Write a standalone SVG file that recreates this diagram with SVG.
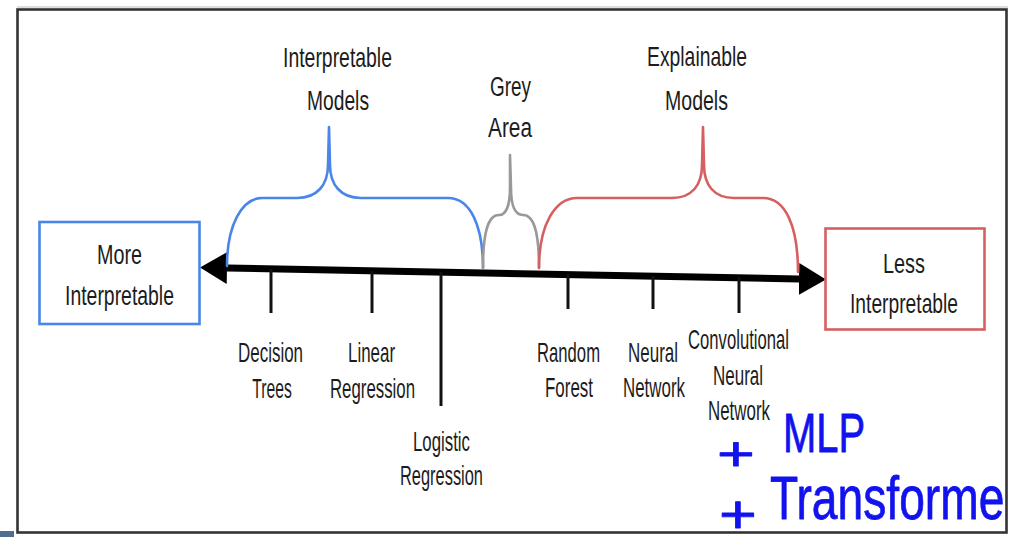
<svg xmlns="http://www.w3.org/2000/svg" width="1010" height="554" viewBox="0 0 1010 554">
<style>
.lbl{font-family:"Liberation Sans",Arial,sans-serif;font-size:28px;fill:#1c1c1c;text-anchor:middle}
.sm{font-size:27px}
.brace{fill:none;stroke-width:2.6;stroke-linejoin:round;stroke-linecap:round}
.tick{stroke:#111;stroke-width:3}
.hand{font-family:"Liberation Sans",Arial,sans-serif;fill:#1212ee;stroke:#1212ee;stroke-width:0.8;stroke-linejoin:round}
</style>
<defs>
<marker id="ah" markerUnits="userSpaceOnUse" markerWidth="28" markerHeight="34" refX="0" refY="16" orient="auto-start-reverse" viewBox="0 0 28 32">
<path d="M0,0 L27,16 L0,32 Z" fill="#000"/>
</marker>
</defs>
<rect width="1010" height="554" fill="#fff"/>
<rect x="0" y="531" width="14" height="6" fill="#4f6f8c"/>
<line x1="17" y1="7" x2="1008" y2="7" stroke="#ddd" stroke-width="2"/>
<rect x="17.5" y="9.5" width="989" height="523" fill="none" stroke="#333" stroke-width="2.6"/>

<g id="connectors">
<line x1="227" y1="268" x2="799" y2="279" stroke="#000" stroke-width="7" marker-start="url(#ah)" marker-end="url(#ah)"/>
<line class="tick" x1="271" y1="269" x2="271" y2="313"/>
<line class="tick" x1="372" y1="271" x2="372" y2="313"/>
<line class="tick" x1="441" y1="272" x2="441" y2="406"/>
<line class="tick" x1="568" y1="274" x2="568" y2="309"/>
<line class="tick" x1="653" y1="276" x2="653" y2="309"/>
<line class="tick" x1="739" y1="277" x2="739" y2="313"/>
<path class="brace" stroke="#4a86e8" d="M227,266 C227,225 242,198 262,198 L297,198 C317,198 328,185 328,165 L329,127 L330,165 C330,185 341,198 361,198 L448,198 C470,198 483,225 483,268"/>
<path class="brace" stroke="#999" d="M483,268 C483,232 488,215 499,215 C506,215 510,205 510,188 L510,155 L511,188 C511,205 515,215 523,215 C534,215 539,232 539,268"/>
<path class="brace" stroke="#d65f5f" d="M539,268 C539,225 555,198 577,198 L672,198 C692,198 702,185 702,165 L703,127 L704,165 C704,185 714,198 734,198 L763,198 C785,198 798,225 798,272"/>
</g>

<g id="more-interpretable">
<rect x="39.5" y="222" width="160" height="102" fill="#fff" stroke="#4a86e8" stroke-width="2.6"/>
<text class="lbl" transform="translate(119.5 264) scale(0.705 1)">More</text>
<text class="lbl" transform="translate(119.5 305) scale(0.693 1)">Interpretable</text>
</g>
<g id="less-interpretable">
<rect x="825.5" y="228.5" width="159" height="101" fill="#fff" stroke="#d65f5f" stroke-width="2.6"/>
<text class="lbl" transform="translate(904 273) scale(0.71 1)">Less</text>
<text class="lbl" transform="translate(904 313) scale(0.687 1)">Interpretable</text>
</g>
<g id="interpretable-models">
<text class="lbl" transform="translate(337.5 67) scale(0.693 1)">Interpretable</text>
<text class="lbl" transform="translate(338 110) scale(0.687 1)">Models</text>
</g>
<g id="grey-area">
<text class="lbl" transform="translate(510.5 96) scale(0.676 1)">Grey</text>
<text class="lbl" transform="translate(510 137) scale(0.744 1)">Area</text>
</g>
<g id="explainable-models">
<text class="lbl" transform="translate(697 66) scale(0.691 1)">Explainable</text>
<text class="lbl" transform="translate(696.5 110) scale(0.698 1)">Models</text>
</g>
<g id="decision-trees">
<text class="lbl sm" transform="translate(270.5 362) scale(0.628 1)">Decision</text>
<text class="lbl sm" transform="translate(272 398) scale(0.58 1)">Trees</text>
</g>
<g id="linear-regression">
<text class="lbl sm" transform="translate(371.5 362) scale(0.627 1)">Linear</text>
<text class="lbl sm" transform="translate(372.5 398) scale(0.623 1)">Regression</text>
</g>
<g id="logistic-regression">
<text class="lbl sm" transform="translate(441.5 451) scale(0.623 1)">Logistic</text>
<text class="lbl sm" transform="translate(441.5 485) scale(0.608 1)">Regression</text>
</g>
<g id="random-forest">
<text class="lbl sm" transform="translate(568.5 362) scale(0.618 1)">Random</text>
<text class="lbl sm" transform="translate(569 397) scale(0.627 1)">Forest</text>
</g>
<g id="neural-network">
<text class="lbl sm" transform="translate(653 362) scale(0.629 1)">Neural</text>
<text class="lbl sm" transform="translate(654 397) scale(0.626 1)">Network</text>
</g>
<g id="cnn">
<text class="lbl sm" transform="translate(738.5 349) scale(0.617 1)">Convolutional</text>
<text class="lbl sm" transform="translate(738 385) scale(0.629 1)">Neural</text>
<text class="lbl sm" transform="translate(739 420) scale(0.626 1)">Network</text>
</g>
<g id="handwritten-notes">
<text class="hand" transform="translate(717 470) scale(1.35 1)" font-size="48">+</text>
<text class="hand" transform="translate(783 452) scale(0.713 1)" font-size="56">MLP</text>
<text class="hand" transform="translate(719 533) scale(1.2 1)" font-size="54">+</text>
<text class="hand" transform="translate(770 519) scale(0.745 1)" font-size="62">Transforme</text>
</g>
</svg>
